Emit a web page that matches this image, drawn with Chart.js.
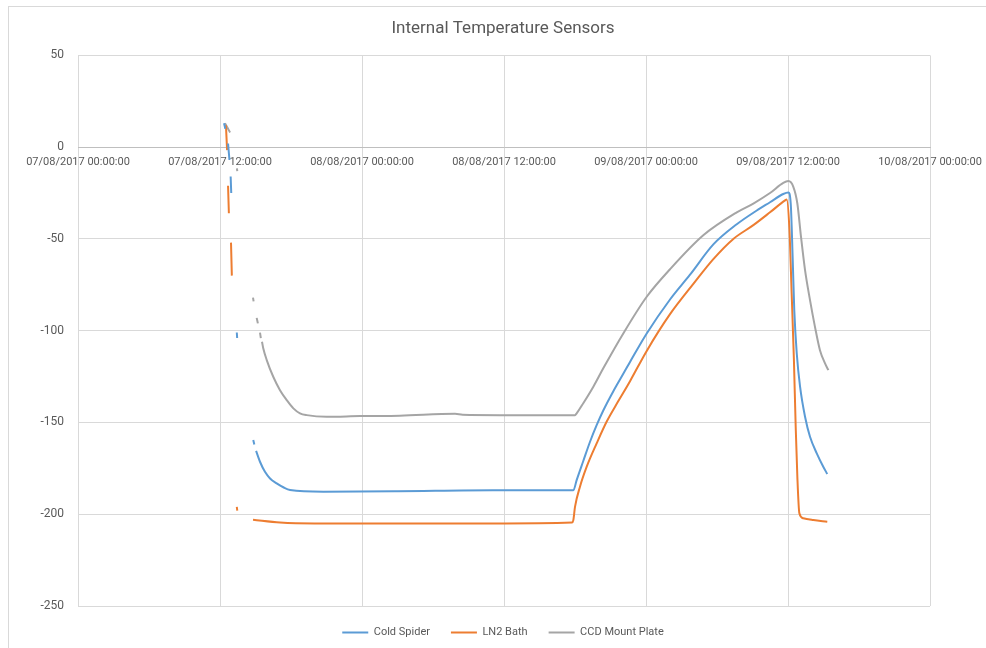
<!DOCTYPE html>
<html>
<head>
<meta charset="utf-8">
<title>Internal Temperature Sensors</title>
<script src="https://cdn.jsdelivr.net/npm/chart.js@4.4.1/dist/chart.umd.min.js"></script>
<style>
  html, body { margin: 0; padding: 0; background: #fff; }
  #wrap { width: 986px; height: 648px; }
</style>
</head>
<body>
<div id="wrap"><canvas id="myChart" width="986" height="648"></canvas></div>
<script>
// hours after 07/08/2017 00:00:00 ; null = gap in the logged data
const coldSpiderHours = [12.34, 12.45, 12.55, 12.68, 12.8, 12.85, 12.9, 12.95, 13.0, 13.42, 13.45, 13.6,
  14.81, 14.9, 14.95, 15.05, 15.38, 15.8, 16.23, 16.79, 17.35, 17.92, 20.73, 27.0, 35.0, 41.86,
  42.14, 42.7, 43.27, 43.83, 44.39, 45.24, 46.08, 46.65, 48.06, 50.03, 51.72, 53.69, 55.67, 57.36, 58.48, 59.6, 60.03,
  60.23, 60.4, 60.53, 60.74, 61.02, 61.44, 61.86, 62.43, 62.98, 63.32];
const coldSpiderTemps = [13, 10, null, 2, -7, null, -16, -25, null, -101, -104, null,
  -159.6, -162, null, -165.5, -171.4, -176.9, -180.5, -183.2, -185.3, -186.8, -187.7, -187.5, -187, -187,
  -181.4, -171, -160.5, -151.5, -143.5, -133, -123.5, -117, -101.5, -83, -69.5, -53, -42, -34.5, -30, -25.5, -24.7,
  -30.7, -61.5, -88.8, -112.4, -130.5, -146.9, -157.8, -166.8, -174.1, -178.1];

const ln2Hours = [12.5, 12.6, 12.65, 12.68, 12.75, 12.8, 12.93, 13.0, 13.2, 13.42, 13.46, 14.0,
  14.79, 17.07, 20.0, 35.0, 41.75,
  41.86, 42.0, 42.42, 42.99, 43.83, 44.68, 45.65, 46.65, 48.06, 50.03, 52.0, 53.69, 55.38, 57.07, 58.48, 59.75, 59.89,
  60.11, 60.31, 60.5, 60.65, 60.79, 60.96, 61.29, 62.14, 63.32];
const ln2Temps = [12, -1.6, null, -21, -36, null, -52, -70, null, -196, -198, null,
  -203, -204.5, -205, -205, -204.5,
  -203.2, -196, -185, -174.1, -161.4, -149.5, -138.5, -127.5, -111, -91, -74.5, -61, -50, -42.5, -35.5, -29, -28.5,
  -43.4, -79.7, -116, -152.3, -179.6, -199.5, -202.2, -203.2, -204.1];

const ccdHours = [12.42, 12.6, 12.85, 13.0, 13.43, 13.46, 14.0,
  14.79, 14.84, 14.9, 15.1, 15.2, 15.25, 15.38, 15.45, 15.5,
  15.55, 15.66, 15.95, 16.5, 17.07, 17.64, 18.2, 18.76, 19.33, 21.02, 23.83, 27.2, 31.86, 32.5, 35.66, 39.0, 42.0,
  42.14, 42.7, 43.55, 44.39, 46.08, 48.06, 50.03, 52.84, 55.67, 57.07, 58.48, 59.6, 60.03,
  60.45, 60.79, 61.1, 61.44, 61.86, 62.28, 62.7, 63.13, 63.41];
const ccdTemps = [13, 11, 8, null, -11.5, -13, null,
  -82, -84, null, -93, -96, null, -101, -104, null,
  -106, -109.7, -116, -125.1, -132.4, -137.8, -142.3, -145, -146, -146.9, -146.5, -146.3, -145.3, -145.8, -146, -146, -146,
  -145, -139.5, -130.5, -120.5, -101.5, -81.5, -66.5, -48, -35.5, -30.7, -25, -19.5, -18.5,
  -21.6, -30.7, -48.9, -67, -83.3, -97.9, -110.6, -117.8, -121.5];

const seriesNames = ['Cold Spider', 'LN2 Bath', 'CCD Mount Plate'];
const seriesColors = ['#5B9BD5', '#ED7D31', '#A5A5A5'];

const xTicks = [0, 12, 24, 36, 48, 60, 72];
const yTicks = [-250, -200, -150, -100, -50, 0, 50];

function pontos(horas, temps) {
  return horas.map((h, i) => ({ x: h, y: temps[i] }));
}

function rotuloData(h) {
  const dia = 7 + Math.floor(h / 24);
  const hora = h % 24;
  return String(dia).padStart(2, '0') + '/08/2017 ' + String(hora).padStart(2, '0') + ':00:00';
}

// moldura cinza do objeto do gráfico (como no Excel)
const moldura = {
  id: 'moldura',
  beforeDraw(chart) {
    const c = chart.ctx;
    c.save();
    c.fillStyle = '#ffffff';
    c.fillRect(0, 0, chart.width, chart.height);
    c.strokeStyle = '#d9d9d9';
    c.lineWidth = 1;
    c.strokeRect(8.5, 6.5, chart.width + 20, chart.height + 20);
    c.restore();
  }
};

const dados = [pontos(coldSpiderHours, coldSpiderTemps), pontos(ln2Hours, ln2Temps), pontos(ccdHours, ccdTemps)];

const ctx = document.getElementById('myChart');
const myChart = new Chart(ctx, {
  type: 'line',
  data: {
    datasets: dados.map((d, i) => ({
      label: seriesNames[i],
      data: d,
      borderColor: seriesColors[i],
      backgroundColor: seriesColors[i],
      borderWidth: 2,
      pointRadius: 0,
      cubicInterpolationMode: 'monotone',
      spanGaps: false
    }))
  },
  options: {
    responsive: false,
    animation: false,
    layout: { padding: { left: 20, right: 0, top: 0, bottom: 0 } },
    scales: {
      x: {
        type: 'linear',
        position: { y: 0 },
        min: 0,
        max: 72,
        afterBuildTicks(scale) { scale.ticks = xTicks.map(v => ({ value: v })); },
        afterFit(scale) { scale.paddingLeft = 0; scale.paddingRight = 56; },
        grid: { color: '#d9d9d9', drawTicks: false },
        border: { color: '#bfbfbf', width: 1 },
        ticks: {
          autoSkip: false,
          maxRotation: 0,
          padding: 8,
          color: '#595959',
          font: { family: 'Roboto', size: 11 },
          callback: v => rotuloData(v)
        }
      },
      y: {
        min: -250,
        max: 50,
        afterBuildTicks(scale) { scale.ticks = yTicks.map(v => ({ value: v })); },
        afterFit(scale) { scale.width = 58; },
        grid: { color: '#d9d9d9', drawTicks: false },
        border: { display: false },
        ticks: {
          padding: 14,
          color: '#595959',
          font: { family: 'Roboto', size: 12 }
        }
      }
    },
    plugins: {
      title: {
        display: true,
        text: 'Internal Temperature Sensors',
        color: '#595959',
        font: { family: 'Roboto', size: 17, weight: 'normal' },
        padding: { top: 19, bottom: 16 }
      },
      legend: {
        position: 'bottom',
        labels: {
          usePointStyle: true,
          pointStyle: 'line',
          pointStyleWidth: 26,
          padding: 21,
          color: '#595959',
          font: { family: 'Roboto', size: 11 }
        }
      },
      tooltip: { enabled: false }
    }
  },
  plugins: [moldura]
});
</script>
</body>
</html>
